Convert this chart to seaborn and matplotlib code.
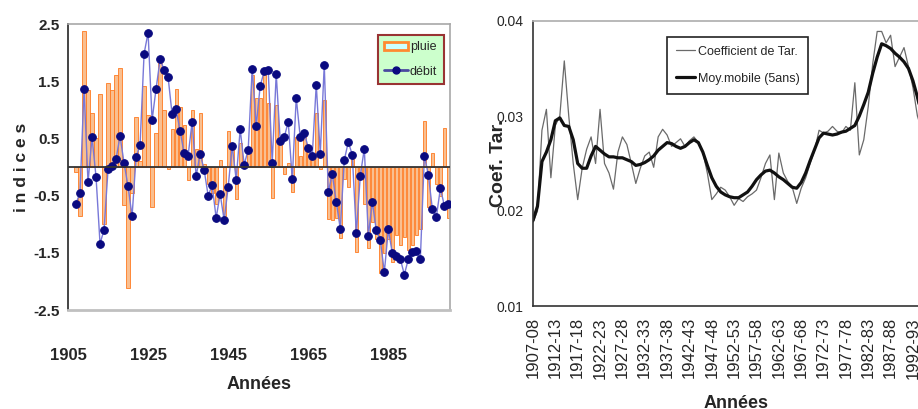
import numpy as np
import pandas as pd
import matplotlib
matplotlib.use("Agg")
import matplotlib.pyplot as plt
import seaborn as sns
from matplotlib.patches import Patch
from matplotlib.lines import Line2D
from matplotlib import font_manager as fm

# ---------------- data (left chart) ----------------
years = list(range(1907, 2001))
pluie = [-0.08, -0.86, 2.38, 1.34, 0.94, 0.50, 1.27, -1.00, 1.47, 1.34,
         1.61, 1.73, -0.67, -2.11, -0.45, 0.88, 0.11, 1.41, 0.91, -0.70,
         0.59, 1.82, 1.00, -0.03, 0.66, 1.37, 1.05, 0.73, -0.22, 1.00,
         0.32, 0.94, 0.05, -0.30, -0.45, -0.65, 0.13, -0.85, 0.63, 0.42,
         -0.56, 0.42, 0.03, 0.35, 1.61, 1.21, 1.21, 1.64, 1.12, -0.54,
         1.09, 0.40, -0.12, 0.07, -0.44, 0.52, 0.20, 0.54, 0.28, 0.17,
         0.95, -0.03, 1.18, -0.91, -0.93, -0.90, -1.24, -0.21, -0.35, 0.14,
         -1.48, -0.18, -0.64, -1.41, -0.96, -1.25, -1.86, -1.51, -1.25, -1.66,
         -1.19, -1.37, -1.22, -1.45, -1.37, -1.19, -1.08, 0.80, -0.70, 0.25,
         -0.30, -0.50, 0.69, -0.89]
debit = [-0.64, -0.45, 1.37, -0.27, 0.52, -0.17, -1.34, -1.10, -0.04, 0.02,
         0.14, 0.54, 0.07, -0.34, -0.86, 0.17, 0.39, 1.98, 2.35, 0.82,
         1.37, 1.88, 1.70, 1.57, 0.92, 1.01, 0.63, 0.24, 0.20, 0.79,
         -0.16, 0.23, -0.05, -0.50, -0.32, -0.89, -0.47, -0.93, -0.35, 0.37,
         -0.22, 0.66, 0.04, 0.30, 1.72, 0.72, 1.42, 1.67, 1.70, 0.07,
         1.63, 0.46, 0.52, 0.79, -0.21, 1.21, 0.52, 0.60, 0.34, 0.20,
         1.44, 0.23, 1.79, -0.44, -0.12, -0.61, -1.08, 0.12, 0.44, 0.21,
         -1.16, -0.15, 0.32, -1.20, -0.61, -1.11, -1.28, -1.84, -1.09, -1.51,
         -1.55, -1.61, -1.88, -1.61, -1.48, -1.47, -1.60, 0.20, -0.14, -0.74,
         -0.87, -0.37, -0.68, -0.64]
left_xticks = [1905, 1925, 1945, 1965, 1985]
left_yticks = [2.5, 1.5, 0.5, -0.5, -1.5, -2.5]

# ---------------- data (right chart) ----------------
tar_years = list(range(1907, 1996))
coef_tar = [0.0188, 0.0200, 0.0285, 0.0307, 0.0235, 0.0290, 0.0300, 0.0358, 0.0300, 0.0250,
            0.0212, 0.0245, 0.0265, 0.0278, 0.0250, 0.0307, 0.0250, 0.0240, 0.0223, 0.0262,
            0.0278, 0.0270, 0.0250, 0.0229, 0.0245, 0.0258, 0.0262, 0.0246, 0.0278, 0.0286,
            0.0280, 0.0268, 0.0272, 0.0276, 0.0268, 0.0274, 0.0278, 0.0272, 0.0262, 0.0240,
            0.0212, 0.0218, 0.0225, 0.0222, 0.0215, 0.0206, 0.0213, 0.0210, 0.0215, 0.0218,
            0.0222, 0.0235, 0.0250, 0.0259, 0.0212, 0.0261, 0.0240, 0.0231, 0.0225, 0.0208,
            0.0224, 0.0235, 0.0250, 0.0264, 0.0285, 0.0282, 0.0284, 0.0289, 0.0284, 0.0282,
            0.0289, 0.0285, 0.0335, 0.0259, 0.0275, 0.0310, 0.0355, 0.0389, 0.0389, 0.0377,
            0.0385, 0.0352, 0.0362, 0.0372, 0.0352, 0.0330, 0.0300, 0.0285, 0.0290]
moy_mobile = [0.0190, 0.0205, 0.0252, 0.0262, 0.0275, 0.0295, 0.0298, 0.0290, 0.0289, 0.0275,
              0.0250, 0.0245, 0.0245, 0.0258, 0.0268, 0.0264, 0.0260, 0.0257, 0.0257, 0.0256,
              0.0256, 0.0254, 0.0252, 0.0248, 0.0249, 0.0251, 0.0254, 0.0258, 0.0264, 0.0268,
              0.0272, 0.0271, 0.0268, 0.0266, 0.0268, 0.0272, 0.0275, 0.0272, 0.0262, 0.0248,
              0.0235, 0.0226, 0.0220, 0.0217, 0.0215, 0.0214, 0.0214, 0.0217, 0.0220, 0.0226,
              0.0233, 0.0238, 0.0242, 0.0243, 0.0240, 0.0236, 0.0233, 0.0229, 0.0225, 0.0224,
              0.0230, 0.0240, 0.0253, 0.0265, 0.0277, 0.0282, 0.0281, 0.0280, 0.0281, 0.0283,
              0.0284, 0.0287, 0.0290, 0.0300, 0.0312, 0.0325, 0.0345, 0.0362, 0.0376, 0.0374,
              0.0371, 0.0366, 0.0362, 0.0357, 0.0350, 0.0337, 0.0320, 0.0300, 0.0290]
right_xticklabels = ["1907-08", "1912-13", "1917-18", "1922-23", "1927-28", "1932-33",
                     "1937-38", "1942-43", "1947-48", "1952-53", "1957-58", "1962-63",
                     "1967-68", "1972-73", "1977-78", "1982-83", "1987-88", "1992-93"]
right_yticks = [0.01, 0.02, 0.03, 0.04]

# ---------------- style ----------------
sns.set_theme(style="white")
avail = {f.name for f in fm.fontManager.ttflist}
NARROW = "Liberation Sans Narrow" if "Liberation Sans Narrow" in avail else "Liberation Sans"
plt.rcParams['font.family'] = ['Liberation Sans', 'DejaVu Sans']

W, H = 918, 409
fig = plt.figure(figsize=(W / 100, H / 100), dpi=100)

def fx(px):
    return px / W

def fy(py):
    return 1 - py / H

# ================= LEFT CHART =================
axL = fig.add_axes([fx(68), fy(310), fx(450 - 68), (310 - 24) / H])
dfL = pd.DataFrame({"annee": years, "pluie": pluie, "debit": debit})
sns.barplot(data=dfL, x="annee", y="pluie", native_scale=True, width=0.8,
            color="#f8b888", edgecolor="#ff7a20", linewidth=0.6,
            errorbar=None, ax=axL, zorder=2)
for p in axL.patches:
    p.set_facecolor("#f9bf90")
    p.set_edgecolor("#ff7a20")
sns.lineplot(data=dfL, x="annee", y="debit", color="#7878d8", linewidth=1.0,
             marker="o", markersize=5.5, markerfacecolor="#0a0a80",
             markeredgecolor="#0a0a80", ax=axL, zorder=3)
axL.axhline(0, color="#333333", lw=1.3, zorder=4)
axL.set_xlim(1905, 2000.4)
axL.set_ylim(-2.5, 2.5)
axL.set_xticks(left_xticks)
axL.set_xticklabels([str(v) for v in left_xticks], family=NARROW,
                    fontweight="bold", fontsize=12)
axL.set_yticks(left_yticks)
axL.set_yticklabels([f"{v:.1f}" for v in left_yticks], family=NARROW,
                    fontweight="bold", fontsize=11)
axL.tick_params(axis="x", length=0, pad=27)
axL.tick_params(axis="y", direction="inout", length=8, width=1.2, color="#333333", pad=2)
axL.set_xlabel("Années", family=NARROW, fontweight="bold", fontsize=13, labelpad=10)
axL.set_ylabel("i n d i c e s", fontweight="bold", fontsize=12.5, labelpad=3)
for s in ["top", "right"]:
    axL.spines[s].set_color("#a8a8a8")
    axL.spines[s].set_linewidth(1.2)
axL.spines["bottom"].set_color("#c0c0c0")
axL.spines["bottom"].set_linewidth(2)
axL.spines["left"].set_color("#444444")
axL.spines["left"].set_linewidth(1.4)

handlesL = [Patch(facecolor="#ccffff", edgecolor="#ff8a30", linewidth=2.0, label="pluie"),
            Line2D([0], [0], color="#4a4aa0", lw=2, marker="o", markersize=5,
                   markerfacecolor="#0a0a80", markeredgecolor="#0a0a80", label="débit")]
legL = axL.legend(handles=handlesL, loc="upper left",
                  bbox_to_anchor=(fx(378), fy(35)), bbox_transform=fig.transFigure,
                  frameon=True, fancybox=False, handlelength=1.9, handletextpad=0.15,
                  labelspacing=1.0, borderpad=0.5, borderaxespad=0,
                  prop={"family": NARROW, "size": 9})
legL.get_frame().set_facecolor("#ccffcc")
legL.get_frame().set_edgecolor("#993333")
legL.get_frame().set_linewidth(1.5)
legL.get_frame().set_alpha(1)

# ================= RIGHT CHART =================
px_per_year = 4.47
n_span = 91
axR = fig.add_axes([fx(533), fy(306), fx(n_span * px_per_year), (306 - 21) / H])
dfR = pd.DataFrame({"idx": [y - 1907 for y in tar_years], "coef": coef_tar, "moy": moy_mobile})
sns.lineplot(data=dfR, x="idx", y="coef", color="#6a6a6a", linewidth=0.9,
             ax=axR, label="Coefficient de Tar.")
sns.lineplot(data=dfR, x="idx", y="moy", color="#111111", linewidth=2.3,
             ax=axR, label="Moy.mobile (5ans)")
axR.set_xlim(0, n_span)
axR.set_ylim(0.01, 0.04)
axR.set_xticks(list(range(0, 5 * len(right_xticklabels), 5)))
axR.set_xticklabels(right_xticklabels, rotation=90, fontsize=12, family="Liberation Sans")
axR.set_yticks(right_yticks)
axR.set_yticklabels([f"{v:.2f}" for v in right_yticks], family=NARROW, fontsize=10)
axR.tick_params(axis="x", direction="inout", length=8, width=1, color="#333333", pad=4)
axR.tick_params(axis="y", direction="out", length=5, width=1, color="#333333", pad=2)
axR.set_xlabel("Années", fontweight="bold", fontsize=13, labelpad=12)
axR.set_ylabel("Coef. Tar.", fontweight="bold", fontsize=14, labelpad=-8)
axR.spines["top"].set_color("#b0b0b0")
axR.spines["right"].set_visible(False)
axR.spines["left"].set_color("#333333")
axR.spines["bottom"].set_color("#333333")
axR.spines["left"].set_linewidth(1.2)
axR.spines["bottom"].set_linewidth(1.2)
legR = axR.legend(loc="upper left", bbox_to_anchor=(fx(667), fy(37)),
                  bbox_transform=fig.transFigure, frameon=True, fancybox=False,
                  handlelength=1.5, handletextpad=0.25, labelspacing=1.2,
                  borderpad=0.7, borderaxespad=0,
                  prop={"family": NARROW, "size": 9})
legR.get_frame().set_edgecolor("#222222")
legR.get_frame().set_linewidth(1.2)
legR.get_frame().set_alpha(1)

fig.savefig("out.png", dpi=100)
